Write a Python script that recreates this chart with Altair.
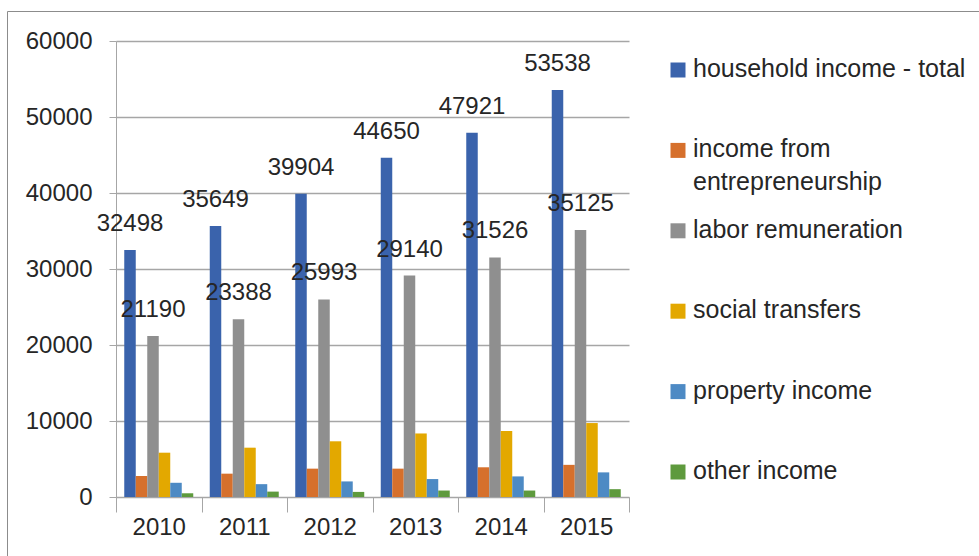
import altair as alt
import pandas as pd

years = ["2010", "2011", "2012", "2013", "2014", "2015"]
series = [
    "household income - total",
    "income from entrepreneurship",
    "labor remuneration",
    "social transfers",
    "property income",
    "other income",
]
legend_labels = [
    "household income - total",
    "income from\nentrepreneurship",
    "labor remuneration",
    "social transfers",
    "property income",
    "other income",
]
colors = ["#3A63AC", "#D6702C", "#8F8F8F", "#E3A800", "#4D8AC4", "#5E9A3D"]

total = [32498, 35649, 39904, 44650, 47921, 53538]
entrepreneurship = [2760, 3070, 3730, 3730, 3910, 4230]
labor = [21190, 23388, 25993, 29140, 31526, 35125]
social = [5830, 6490, 7330, 8360, 8670, 9730]
property_inc = [1870, 1690, 2050, 2360, 2710, 3240]
other = [490, 710, 670, 850, 850, 1030]

values = [total, entrepreneurship, labor, social, property_inc, other]
labeled = ["household income - total", "labor remuneration"]

rows = []
for s, vals in zip(series, values):
    for y, v in zip(years, vals):
        rows.append({"year": y, "series": s, "value": v, "show": s in labeled})
df = pd.DataFrame(rows)
legend_df = pd.DataFrame({"series": series, "label": legend_labels})

FONT = "Liberation Sans"
TXT = "#262626"

color_scale = alt.Scale(domain=series, range=colors)
x_enc = alt.X("year:N", sort=years,
              scale=alt.Scale(paddingInner=0, paddingOuter=0),
              axis=alt.Axis(title=None, labelAngle=0, tickBand="extent",
                            tickSize=15, labelPadding=3, domainColor="#a6a6a6",
                            tickColor="#a6a6a6", labelFont=FONT, labelFontSize=24,
                            labelColor=TXT, grid=False))
xoff = alt.XOffset("series:N", sort=series,
                   scale=alt.Scale(paddingInner=0, paddingOuter=0.7175))
y_scale = alt.Scale(domain=[0, 60000])

bars = alt.Chart(df).mark_bar().encode(
    x=x_enc,
    xOffset=xoff,
    y=alt.Y("value:Q", scale=y_scale,
            axis=alt.Axis(title=None, values=[0, 10000, 20000, 30000, 40000, 50000, 60000],
                          format="d", tickSize=7, labelPadding=17,
                          gridColor="#a6a6a6", gridWidth=1.5,
                          domainColor="#a6a6a6", tickColor="#a6a6a6",
                          labelFont=FONT, labelFontSize=24, labelColor=TXT)),
    color=alt.Color("series:N", scale=color_scale, legend=None),
)

labels = alt.Chart(df).transform_filter("datum.show").mark_text(
    font=FONT, fontSize=24, color=TXT, baseline="alphabetic", dy=-19
).encode(
    x=alt.X("year:N", sort=years),
    xOffset=alt.XOffset("series:N", sort=series),
    y=alt.Y("value:Q", scale=y_scale),
    text=alt.Text("value:Q", format="d"),
)

main = alt.layer(bars, labels)

leg_y = alt.Y("series:N", sort=series,
              scale=alt.Scale(type="point", domain=series, range=[29, 431], padding=0),
              axis=None)

leg_sq = alt.Chart(legend_df).mark_square(size=225, opacity=1).encode(
    x=alt.value(562),
    y=leg_y,
    color=alt.Color("series:N", scale=color_scale, legend=None),
)

leg_txt = alt.Chart(legend_df).mark_text(
    font=FONT, fontSize=25, color=TXT, align="left", baseline="alphabetic",
    dy=7, lineBreak="\n", lineHeight=33
).encode(
    x=alt.value(577),
    y=leg_y,
    text="label:N",
)

frame = alt.Chart(pd.DataFrame({"a": [0]})).mark_rect(
    fill=None, stroke="#8c8c8c", strokeWidth=1
).encode(
    x=alt.value(-108.5), x2=alt.value(900),
    y=alt.value(-29.5), y2=alt.value(600),
)

chart = alt.layer(main, leg_sq, leg_txt, frame).resolve_scale(
    y="independent"
).properties(
    width=513, height=456,
    padding={"left": 116, "top": 41, "right": 350, "bottom": 59},
    autosize=alt.AutoSizeParams(type="none"),
).configure_view(stroke=None)

chart.save("out.html", embed_options={"renderer": "svg", "actions": False})
